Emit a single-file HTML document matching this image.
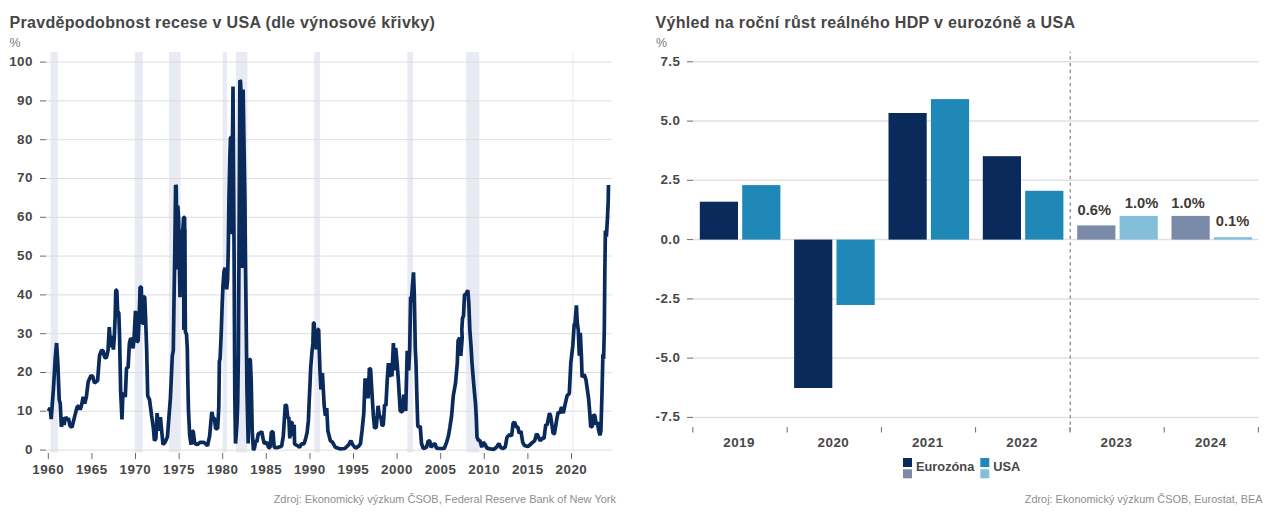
<!DOCTYPE html>
<html lang="cs"><head><meta charset="utf-8"><title>Charts</title>
<style>
html,body{margin:0;padding:0;background:#fff;}
body{width:1271px;height:518px;position:relative;overflow:hidden;font-family:"Liberation Sans",sans-serif;}
svg text{font-family:"Liberation Sans",sans-serif;}
.tk{font-size:13.4px;letter-spacing:0.5px;font-weight:bold;fill:#474747;}
.vl{font-size:14.7px;font-weight:bold;fill:#403b37;}
.lg{font-size:12.8px;font-weight:bold;fill:#474747;}
.title{position:absolute;top:13.4px;font-size:16px;letter-spacing:0.33px;font-weight:bold;color:#464646;white-space:nowrap;line-height:20px;transform-origin:0 0;}
.pct{position:absolute;top:35.1px;font-size:12.4px;transform:scaleY(1.1);transform-origin:0 50%;color:#7a7a7a;line-height:16px;}
.src{position:absolute;top:491.6px;font-size:11px;color:#8e8e8e;white-space:nowrap;line-height:14px;transform-origin:100% 0;}
</style></head><body>
<svg width="1271" height="518" viewBox="0 0 1271 518" style="position:absolute;left:0;top:0">
<rect x="50.5" y="52" width="7.4" height="400.5" fill="#e8ebf3"/>
<rect x="134.8" y="52" width="7.9" height="400.5" fill="#e8ebf3"/>
<rect x="168.9" y="52" width="11.7" height="400.5" fill="#e8ebf3"/>
<rect x="222.7" y="52" width="4.4" height="400.5" fill="#e8ebf3"/>
<rect x="235.8" y="52" width="11.6" height="400.5" fill="#e8ebf3"/>
<rect x="314.3" y="52" width="5.8" height="400.5" fill="#e8ebf3"/>
<rect x="407.3" y="52" width="5.8" height="400.5" fill="#e8ebf3"/>
<rect x="466.2" y="52" width="13.1" height="400.5" fill="#e8ebf3"/>
<rect x="572.4" y="52" width="1.0" height="400.5" fill="#e8ebf3"/>
<line x1="46" x2="611.5" y1="450.1" y2="450.1" stroke="#dddddd" stroke-width="1"/>
<line x1="40" x2="46" y1="450.1" y2="450.1" stroke="#6a6a6a" stroke-width="1"/>
<text x="33" y="453.9" text-anchor="end" class="tk">0</text>
<line x1="46" x2="611.5" y1="411.2" y2="411.2" stroke="#dddddd" stroke-width="1"/>
<line x1="40" x2="46" y1="411.2" y2="411.2" stroke="#6a6a6a" stroke-width="1"/>
<text x="33" y="415.1" text-anchor="end" class="tk">10</text>
<line x1="46" x2="611.5" y1="372.5" y2="372.5" stroke="#dddddd" stroke-width="1"/>
<line x1="40" x2="46" y1="372.5" y2="372.5" stroke="#6a6a6a" stroke-width="1"/>
<text x="33" y="376.3" text-anchor="end" class="tk">20</text>
<line x1="46" x2="611.5" y1="333.7" y2="333.7" stroke="#dddddd" stroke-width="1"/>
<line x1="40" x2="46" y1="333.7" y2="333.7" stroke="#6a6a6a" stroke-width="1"/>
<text x="33" y="337.5" text-anchor="end" class="tk">30</text>
<line x1="46" x2="611.5" y1="294.9" y2="294.9" stroke="#dddddd" stroke-width="1"/>
<line x1="40" x2="46" y1="294.9" y2="294.9" stroke="#6a6a6a" stroke-width="1"/>
<text x="33" y="298.7" text-anchor="end" class="tk">40</text>
<line x1="46" x2="611.5" y1="256.1" y2="256.1" stroke="#dddddd" stroke-width="1"/>
<line x1="40" x2="46" y1="256.1" y2="256.1" stroke="#6a6a6a" stroke-width="1"/>
<text x="33" y="259.9" text-anchor="end" class="tk">50</text>
<line x1="46" x2="611.5" y1="217.3" y2="217.3" stroke="#dddddd" stroke-width="1"/>
<line x1="40" x2="46" y1="217.3" y2="217.3" stroke="#6a6a6a" stroke-width="1"/>
<text x="33" y="221.1" text-anchor="end" class="tk">60</text>
<line x1="46" x2="611.5" y1="178.5" y2="178.5" stroke="#dddddd" stroke-width="1"/>
<line x1="40" x2="46" y1="178.5" y2="178.5" stroke="#6a6a6a" stroke-width="1"/>
<text x="33" y="182.3" text-anchor="end" class="tk">70</text>
<line x1="46" x2="611.5" y1="139.7" y2="139.7" stroke="#dddddd" stroke-width="1"/>
<line x1="40" x2="46" y1="139.7" y2="139.7" stroke="#6a6a6a" stroke-width="1"/>
<text x="33" y="143.5" text-anchor="end" class="tk">80</text>
<line x1="46" x2="611.5" y1="100.9" y2="100.9" stroke="#dddddd" stroke-width="1"/>
<line x1="40" x2="46" y1="100.9" y2="100.9" stroke="#6a6a6a" stroke-width="1"/>
<text x="33" y="104.7" text-anchor="end" class="tk">90</text>
<line x1="46" x2="611.5" y1="62.1" y2="62.1" stroke="#dddddd" stroke-width="1"/>
<line x1="40" x2="46" y1="62.1" y2="62.1" stroke="#6a6a6a" stroke-width="1"/>
<text x="33" y="65.9" text-anchor="end" class="tk">100</text>
<line x1="48.3" x2="48.3" y1="453" y2="459" stroke="#6a6a6a" stroke-width="1"/>
<text x="48.2" y="474.2" text-anchor="middle" class="tk">1960</text>
<line x1="91.9" x2="91.9" y1="453" y2="459" stroke="#6a6a6a" stroke-width="1"/>
<text x="91.8" y="474.2" text-anchor="middle" class="tk">1965</text>
<line x1="135.5" x2="135.5" y1="453" y2="459" stroke="#6a6a6a" stroke-width="1"/>
<text x="135.4" y="474.2" text-anchor="middle" class="tk">1970</text>
<line x1="179.1" x2="179.1" y1="453" y2="459" stroke="#6a6a6a" stroke-width="1"/>
<text x="179.0" y="474.2" text-anchor="middle" class="tk">1975</text>
<line x1="222.7" x2="222.7" y1="453" y2="459" stroke="#6a6a6a" stroke-width="1"/>
<text x="222.6" y="474.2" text-anchor="middle" class="tk">1980</text>
<line x1="266.3" x2="266.3" y1="453" y2="459" stroke="#6a6a6a" stroke-width="1"/>
<text x="266.2" y="474.2" text-anchor="middle" class="tk">1985</text>
<line x1="309.9" x2="309.9" y1="453" y2="459" stroke="#6a6a6a" stroke-width="1"/>
<text x="309.8" y="474.2" text-anchor="middle" class="tk">1990</text>
<line x1="353.5" x2="353.5" y1="453" y2="459" stroke="#6a6a6a" stroke-width="1"/>
<text x="353.4" y="474.2" text-anchor="middle" class="tk">1995</text>
<line x1="397.1" x2="397.1" y1="453" y2="459" stroke="#6a6a6a" stroke-width="1"/>
<text x="397.0" y="474.2" text-anchor="middle" class="tk">2000</text>
<line x1="440.7" x2="440.7" y1="453" y2="459" stroke="#6a6a6a" stroke-width="1"/>
<text x="440.6" y="474.2" text-anchor="middle" class="tk">2005</text>
<line x1="484.3" x2="484.3" y1="453" y2="459" stroke="#6a6a6a" stroke-width="1"/>
<text x="484.2" y="474.2" text-anchor="middle" class="tk">2010</text>
<line x1="527.9" x2="527.9" y1="453" y2="459" stroke="#6a6a6a" stroke-width="1"/>
<text x="527.8" y="474.2" text-anchor="middle" class="tk">2015</text>
<line x1="571.5" x2="571.5" y1="453" y2="459" stroke="#6a6a6a" stroke-width="1"/>
<text x="571.4" y="474.2" text-anchor="middle" class="tk">2020</text>
<polyline points="48.3,411.2 50.2,407.8 51.2,419.0 52.2,405.4 53.5,388.0 55.3,356.9 56.6,343.0 57.9,364.7 59.2,399.6 60.2,403.5 61.4,426.8 63.1,417.1 64.0,424.8 65.7,417.1 67.5,419.8 68.4,418.2 70.1,426.0 72.0,427.2 74.5,417.1 77.1,407.0 78.8,405.8 80.1,409.7 81.4,405.8 83.2,396.9 84.7,403.5 86.4,396.9 88.2,381.8 91.0,375.6 92.8,376.7 94.5,382.9 97.6,380.6 99.5,355.8 101.3,350.7 103.1,350.7 104.5,356.9 106.3,358.1 108.0,350.7 109.3,327.1 110.6,347.2 112.0,336.0 113.4,349.6 114.3,337.1 115.1,318.1 115.8,290.2 116.8,290.2 117.6,310.8 118.8,313.1 119.5,333.7 120.7,393.0 122.0,419.4 122.9,393.0 125.3,396.9 126.5,368.2 128.1,367.4 129.4,343.4 130.6,338.3 132.0,339.5 133.1,348.4 134.1,337.1 135.5,310.8 136.9,342.2 138.1,341.0 139.4,310.8 140.1,287.1 141.3,287.1 142.1,323.2 143.2,323.2 144.0,296.8 144.7,296.8 145.7,320.8 146.7,350.7 147.7,395.7 149.5,399.6 151.6,415.5 153.4,428.3 154.4,440.7 155.9,438.4 157.1,413.2 158.6,430.7 160.4,417.1 163.0,444.6 165.1,442.3 167.4,436.9 170.4,398.1 172.3,355.8 173.3,350.7 174.0,300.7 174.8,250.6 175.6,185.0 176.2,186.2 177.2,269.6 177.8,205.6 178.6,219.2 180.0,297.2 181.0,230.8 182.0,231.2 182.8,230.4 183.6,217.3 184.6,217.3 185.1,294.9 185.4,331.7 186.5,334.4 187.3,348.4 187.8,380.2 188.5,411.2 189.7,435.7 191.1,444.6 192.2,430.7 193.2,431.4 194.8,443.5 197.4,444.6 200.0,442.3 203.5,442.3 205.3,443.5 207.5,445.8 209.6,436.1 211.8,412.0 213.1,418.2 214.4,418.2 215.7,428.7 217.0,428.7 217.6,428.7 218.3,417.1 218.8,406.6 219.4,360.8 220.1,358.9 221.2,333.7 222.1,306.5 223.0,285.1 224.0,271.6 225.0,267.7 225.8,273.5 226.7,289.4 227.6,279.3 228.3,248.3 228.9,201.7 229.8,157.9 230.5,137.3 231.0,137.3 231.6,234.3 233.0,86.5 234.1,256.1 234.8,395.7 235.5,443.5 236.2,434.5 237.0,422.9 237.7,403.5 238.4,353.1 239.2,217.3 239.9,80.3 240.5,81.1 241.0,93.1 242.2,268.1 243.1,89.6 243.9,139.7 244.9,197.9 245.4,256.1 246.1,314.2 247.0,391.9 248.2,443.5 249.0,391.9 249.6,359.3 250.3,359.3 251.2,380.2 252.2,430.7 253.4,450.1 254.6,447.7 255.6,440.0 256.7,442.3 258.4,433.4 260.0,433.4 261.7,431.4 263.0,438.4 264.4,443.8 266.6,442.3 268.8,447.7 270.0,447.7 271.4,431.8 273.0,431.8 274.2,447.3 276.8,447.7 281.6,446.2 283.3,436.1 285.3,404.7 286.5,405.8 287.8,418.2 288.8,417.1 289.8,438.4 290.7,422.1 292.2,422.9 293.3,436.1 294.2,424.8 294.6,444.2 297.1,445.4 299.6,447.3 301.5,443.8 304.0,443.8 305.2,440.4 307.1,432.6 308.4,420.2 309.2,401.2 310.0,384.1 310.7,367.4 312.0,351.9 312.9,343.4 313.5,322.8 314.1,322.8 315.4,345.3 316.6,349.2 317.9,329.4 318.6,329.4 319.2,348.0 319.9,369.3 320.9,389.5 322.4,373.2 324.2,405.8 325.4,415.9 326.7,408.1 327.9,431.0 330.4,440.7 332.6,442.3 335.4,447.3 340.4,448.9 344.8,448.5 348.8,444.6 350.9,440.7 352.6,444.6 355.6,448.1 358.7,446.2 360.5,443.5 362.0,431.0 363.8,413.2 365.1,378.3 366.3,398.4 367.0,378.3 368.1,398.4 369.4,368.2 370.6,369.3 371.8,390.7 373.4,415.9 374.6,428.3 376.3,427.2 378.1,405.8 379.7,418.2 380.8,415.9 382.1,426.0 383.3,424.8 384.6,404.7 385.9,405.8 387.2,380.6 388.4,363.1 389.7,377.1 391.0,363.1 391.9,376.3 393.4,343.0 394.7,370.5 395.7,348.0 397.1,363.1 398.4,380.6 400.2,410.9 402.3,412.0 403.7,394.6 405.7,410.9 407.2,350.7 408.7,370.5 409.7,349.2 410.6,296.8 411.2,302.6 413.5,272.3 414.3,294.9 415.3,349.2 416.0,363.1 417.0,400.8 417.8,426.0 418.9,427.2 420.2,426.0 421.5,443.5 423.3,448.5 426.5,447.3 428.3,440.7 429.8,441.1 431.1,447.3 433.3,444.6 435.0,443.5 436.3,448.1 440.4,448.5 444.2,448.5 446.6,442.3 448.4,436.1 449.9,427.2 451.6,415.9 453.3,395.7 455.5,383.3 457.3,363.1 458.1,340.6 459.9,337.9 460.8,355.8 462.2,337.9 461.8,329.8 462.5,318.1 463.5,316.2 464.5,294.9 466.0,294.1 467.8,290.2 468.8,302.6 469.8,329.8 471.0,345.7 472.0,363.1 473.0,375.6 474.3,390.7 475.5,403.5 476.3,418.2 477.0,437.2 478.5,440.4 479.9,440.4 481.7,447.3 483.1,442.3 485.2,444.6 486.9,448.1 490.4,448.9 493.9,449.3 496.5,447.3 498.9,443.5 500.6,447.3 502.6,448.5 505.2,447.3 507.0,437.2 509.6,434.5 511.6,436.1 513.1,423.3 514.6,422.1 516.4,427.2 517.9,427.2 519.2,433.4 520.9,431.0 522.7,442.3 524.4,445.4 527.9,446.6 531.4,443.5 534.7,440.7 536.6,433.8 538.2,436.1 540.1,440.7 542.2,438.4 544.0,438.4 545.8,424.4 547.1,425.2 549.5,413.2 550.6,415.9 553.2,433.8 554.5,433.4 556.5,420.9 558.2,412.0 559.7,413.2 561.6,407.0 563.3,413.2 564.8,405.8 567.1,395.7 569.3,393.4 570.8,363.1 572.8,345.7 574.2,324.3 575.0,323.6 576.4,305.3 577.2,322.0 578.3,330.5 579.3,355.8 580.3,332.9 581.4,355.8 582.1,377.1 584.1,374.4 585.9,379.4 587.2,388.4 588.6,398.4 589.8,413.2 590.7,427.2 592.4,426.0 593.6,414.7 594.9,415.9 596.2,424.4 597.4,422.1 598.5,429.5 599.9,435.3 600.9,431.0 602.0,393.4 602.9,354.2 603.6,358.9 604.3,329.8 604.8,275.5 605.4,230.4 606.4,236.7 607.5,217.3 608.2,201.7 608.5,185.0" fill="none" stroke="#0b2a5c" stroke-width="3.7" stroke-linejoin="bevel" stroke-linecap="butt"/>
<rect x="181.9" y="228.9" width="4.6" height="100.9" fill="#0b2a5c"/>
<line x1="693" x2="1259" y1="61.8" y2="61.8" stroke="#e1e1e1" stroke-width="1.5"/>
<line x1="687" x2="693" y1="61.8" y2="61.8" stroke="#6a6a6a" stroke-width="1"/>
<text x="680.5" y="65.8" text-anchor="end" class="tk">7.5</text>
<line x1="693" x2="1259" y1="121.1" y2="121.1" stroke="#e1e1e1" stroke-width="1.5"/>
<line x1="687" x2="693" y1="121.1" y2="121.1" stroke="#6a6a6a" stroke-width="1"/>
<text x="680.5" y="125.0" text-anchor="end" class="tk">5.0</text>
<line x1="693" x2="1259" y1="180.3" y2="180.3" stroke="#e1e1e1" stroke-width="1.5"/>
<line x1="687" x2="693" y1="180.3" y2="180.3" stroke="#6a6a6a" stroke-width="1"/>
<text x="680.5" y="184.2" text-anchor="end" class="tk">2.5</text>
<line x1="693" x2="1259" y1="239.6" y2="239.6" stroke="#e1e1e1" stroke-width="1.5"/>
<line x1="687" x2="693" y1="239.6" y2="239.6" stroke="#6a6a6a" stroke-width="1"/>
<text x="680.5" y="243.5" text-anchor="end" class="tk">0.0</text>
<line x1="693" x2="1259" y1="298.9" y2="298.9" stroke="#e1e1e1" stroke-width="1.5"/>
<line x1="687" x2="693" y1="298.9" y2="298.9" stroke="#6a6a6a" stroke-width="1"/>
<text x="680.5" y="302.8" text-anchor="end" class="tk">-2.5</text>
<line x1="693" x2="1259" y1="358.1" y2="358.1" stroke="#e1e1e1" stroke-width="1.5"/>
<line x1="687" x2="693" y1="358.1" y2="358.1" stroke="#6a6a6a" stroke-width="1"/>
<text x="680.5" y="362.0" text-anchor="end" class="tk">-5.0</text>
<line x1="693" x2="1259" y1="417.4" y2="417.4" stroke="#e1e1e1" stroke-width="1.5"/>
<line x1="687" x2="693" y1="417.4" y2="417.4" stroke="#6a6a6a" stroke-width="1"/>
<text x="680.5" y="421.2" text-anchor="end" class="tk">-7.5</text>
<rect x="699.8" y="201.7" width="38.2" height="37.9" fill="#0b2a5c"/>
<rect x="742.2" y="185.1" width="38.2" height="54.5" fill="#1f88b7"/>
<text x="739.1" y="447.0" text-anchor="middle" class="tk">2019</text>
<rect x="794.1" y="239.6" width="38.2" height="148.4" fill="#0b2a5c"/>
<rect x="836.5" y="239.6" width="38.2" height="65.4" fill="#1f88b7"/>
<text x="833.4" y="447.0" text-anchor="middle" class="tk">2020</text>
<rect x="888.5" y="113.0" width="38.2" height="126.6" fill="#0b2a5c"/>
<rect x="930.9" y="99.1" width="38.2" height="140.5" fill="#1f88b7"/>
<text x="927.8" y="447.0" text-anchor="middle" class="tk">2021</text>
<rect x="982.8" y="156.2" width="38.2" height="83.4" fill="#0b2a5c"/>
<rect x="1025.2" y="190.8" width="38.2" height="48.8" fill="#1f88b7"/>
<text x="1022.1" y="447.0" text-anchor="middle" class="tk">2022</text>
<rect x="1077.2" y="225.4" width="38.2" height="14.2" fill="#7a8aa9"/>
<rect x="1119.6" y="215.9" width="38.2" height="23.7" fill="#84bedb"/>
<text x="1116.5" y="447.0" text-anchor="middle" class="tk">2023</text>
<rect x="1171.5" y="215.9" width="38.2" height="23.7" fill="#7a8aa9"/>
<rect x="1213.9" y="237.2" width="38.2" height="2.4" fill="#84bedb"/>
<text x="1210.8" y="447.0" text-anchor="middle" class="tk">2024</text>
<line x1="692.9" x2="692.9" y1="427" y2="432.5" stroke="#6a6a6a" stroke-width="1"/>
<line x1="787.1" x2="787.1" y1="427" y2="432.5" stroke="#6a6a6a" stroke-width="1"/>
<line x1="881.4" x2="881.4" y1="427" y2="432.5" stroke="#6a6a6a" stroke-width="1"/>
<line x1="975.6" x2="975.6" y1="427" y2="432.5" stroke="#6a6a6a" stroke-width="1"/>
<line x1="1069.9" x2="1069.9" y1="427" y2="432.5" stroke="#6a6a6a" stroke-width="1"/>
<line x1="1164.2" x2="1164.2" y1="427" y2="432.5" stroke="#6a6a6a" stroke-width="1"/>
<line x1="1258.4" x2="1258.4" y1="427" y2="432.5" stroke="#6a6a6a" stroke-width="1"/>
<line x1="1070.3" x2="1070.3" y1="52" y2="433" stroke="#8c8c8c" stroke-width="1.3" stroke-dasharray="3.3 3.34" stroke-dashoffset="2.3"/>
<text x="1094.3" y="214.6" text-anchor="middle" class="vl">0.6%</text>
<text x="1141.6" y="208.1" text-anchor="middle" class="vl">1.0%</text>
<text x="1188" y="208.1" text-anchor="middle" class="vl">1.0%</text>
<text x="1232.5" y="225.8" text-anchor="middle" class="vl">0.1%</text>
<rect x="903" y="458" width="9" height="9" fill="#0b2a5c"/><rect x="903" y="469.3" width="9" height="9" fill="#7a8aa9"/>
<rect x="980.3" y="458" width="9" height="9" fill="#1f88b7"/><rect x="980.3" y="469.3" width="9" height="9" fill="#84bedb"/>
<text x="916" y="471.0" class="lg">Eurozóna</text><text x="993.3" y="471.0" class="lg">USA</text>
</svg>
<div class="title" id="t1" style="left:9.4px">Pravděpodobnost recese v USA (dle výnosové křivky)</div>
<div class="pct" style="left:9.5px">%</div>
<div class="src" id="s1" style="right:655px">Zdroj: Ekonomický výzkum ČSOB, Federal Reserve Bank of New York</div>
<div class="title" id="t2" style="left:655.5px">Výhled na roční růst reálného HDP v eurozóně a USA</div>
<div class="pct" style="left:656px">%</div>
<div class="src" id="s2" style="right:8.4px;font-size:10.9px">Zdroj: Ekonomický výzkum ČSOB, Eurostat, BEA</div>
</body></html>
